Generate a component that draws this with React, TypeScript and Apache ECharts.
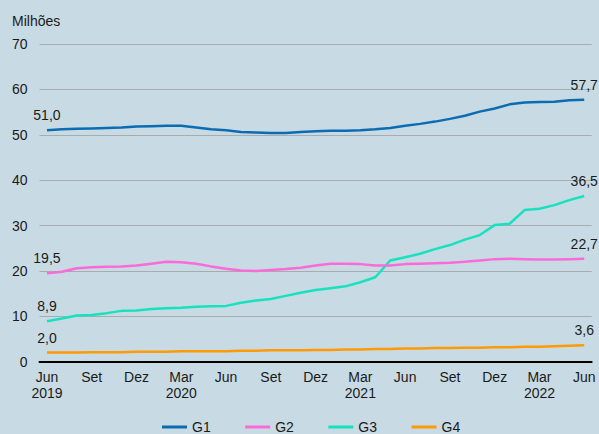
import React, { useEffect, useRef } from "react";
import * as echarts from "echarts";

const categories = [
  "Jun\n2019", "Jul", "Ago", "Set", "Out", "Nov", "Dez", "Jan", "Fev",
  "Mar\n2020", "Abr", "Mai", "Jun", "Jul", "Ago", "Set", "Out", "Nov", "Dez", "Jan", "Fev",
  "Mar\n2021", "Abr", "Mai", "Jun", "Jul", "Ago", "Set", "Out", "Nov", "Dez", "Jan", "Fev",
  "Mar\n2022", "Abr", "Mai", "Jun",
];

const g1 = [
  51.0, 51.2, 51.3, 51.4, 51.5, 51.6, 51.8, 51.9, 52.0, 52.0, 51.6, 51.2, 51.0,
  50.6, 50.5, 50.4, 50.4, 50.6, 50.8, 50.9, 50.9, 51.0, 51.2, 51.5, 52.0, 52.4,
  52.9, 53.5, 54.2, 55.1, 55.8, 56.7, 57.1, 57.2, 57.3, 57.6, 57.7,
];

const g2 = [
  19.5, 19.8, 20.6, 20.8, 20.9, 21.0, 21.2, 21.6, 22.0, 21.9, 21.6, 21.0, 20.5,
  20.1, 20.0, 20.2, 20.4, 20.7, 21.2, 21.6, 21.6, 21.5, 21.2, 21.2, 21.5, 21.6,
  21.7, 21.8, 22.0, 22.3, 22.6, 22.7, 22.6, 22.5, 22.5, 22.6, 22.7,
];

const g3 = [
  8.9, 9.5, 10.2, 10.3, 10.7, 11.2, 11.3, 11.6, 11.8, 11.9, 12.1, 12.2, 12.3,
  13.0, 13.5, 13.8, 14.5, 15.2, 15.8, 16.2, 16.6, 17.5, 18.6, 22.3, 23.0, 23.8,
  24.8, 25.7, 26.9, 27.9, 30.1, 30.4, 33.4, 33.7, 34.5, 35.6, 36.5,
];

const g4 = [
  2.0, 2.0, 2.0, 2.1, 2.1, 2.1, 2.2, 2.2, 2.2, 2.3, 2.3, 2.3, 2.3, 2.4, 2.4,
  2.5, 2.5, 2.5, 2.6, 2.6, 2.7, 2.7, 2.8, 2.8, 2.9, 2.9, 3.0, 3.0, 3.1, 3.1,
  3.2, 3.2, 3.3, 3.3, 3.4, 3.5, 3.6,
];

const seriesNames = ["G1", "G2", "G3", "G4"];
const seriesColors = ["#0a6db3", "#fb6ad9", "#17e2c0", "#ff9a05"];
const yTicks = { min: 0, max: 70, interval: 10 };

const FONT = "'Liberation Sans', Arial, sans-serif";
const FS = 14;

export default function App() {
  const ref = useRef<HTMLDivElement>(null);

  useEffect(() => {
    if (!ref.current) return;
    const chart = echarts.init(ref.current, undefined, { renderer: "svg" });
    const all = [g1, g2, g3, g4];
    chart.setOption({
      animation: false,
      backgroundColor: "#c8dae3",
      textStyle: { fontFamily: FONT },
      title: {
        text: "Milhões",
        left: 7,
        top: 9,
        textStyle: { fontSize: FS, fontWeight: "normal", color: "#1a1a1a", fontFamily: FONT },
      },
      grid: { left: 39.5, right: 7.3, top: 44, bottom: 72.3, containLabel: false },
      legend: {
        bottom: 0,
        left: 157,
        padding: [0, 5, 0, 5],
        itemWidth: 25,
        itemHeight: 3,
        itemGap: 34.5,
        icon: "rect",
        textStyle: { fontSize: FS, color: "#1a1a1a", fontFamily: FONT },
        data: seriesNames,
      },
      xAxis: {
        type: "category",
        data: categories,
        boundaryGap: true,
        axisLine: { lineStyle: { color: "#000", width: 2 } },
        axisTick: {
          interval: (i: number) => i % 3 === 0,
          length: 5,
          lineStyle: { color: "#000", width: 1.5 },
        },
        axisLabel: {
          interval: (i: number) => i % 3 === 0,
          fontSize: FS,
          color: "#1a1a1a",
          lineHeight: 16,
          margin: 7,
          fontFamily: FONT,
        },
        splitLine: { show: false },
      },
      yAxis: {
        type: "value",
        min: yTicks.min,
        max: yTicks.max,
        interval: yTicks.interval,
        axisLine: { show: false },
        axisTick: { show: false },
        axisLabel: { fontSize: FS, color: "#1a1a1a", margin: 12, fontFamily: FONT },
        splitLine: { lineStyle: { color: "#a9acae", width: 1 } },
      },
      series: all.map((vals, k) => ({
        name: seriesNames[k],
        type: "line",
        data: vals,
        showSymbol: true,
        symbol: "circle",
        symbolSize: 0,
        lineStyle: { width: 2.5, color: seriesColors[k] },
        itemStyle: { color: seriesColors[k] },
        label: {
          show: true,
          position: "top",
          distance: 8,
          fontSize: FS,
          color: "#1a1a1a",
          fontFamily: FONT,
          formatter: (p: any) =>
            p.dataIndex === 0 || p.dataIndex === vals.length - 1
              ? Number(p.value).toFixed(1).replace(".", ",")
              : "",
        },
        labelLayout: { hideOverlap: false },
        z: 10 - k,
      })),
    });
    return () => chart.dispose();
  }, []);

  return (
    <div
      ref={ref}
      style={{ position: "absolute", left: 0, top: 0, width: 599, height: 434 }}
    />
  );
}
